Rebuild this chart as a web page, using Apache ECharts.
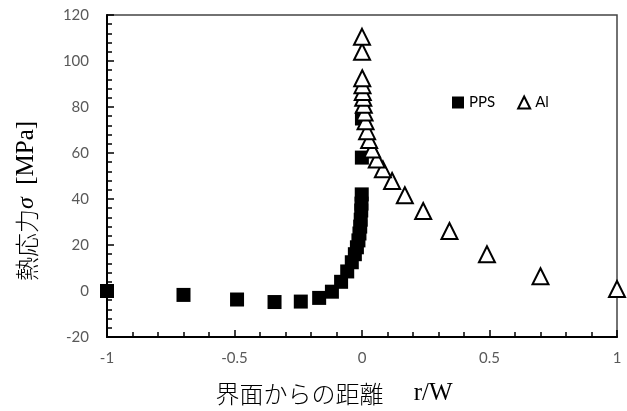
<!DOCTYPE html>
<html><head><meta charset="utf-8">
<script src="https://cdn.jsdelivr.net/npm/echarts@6/dist/echarts.min.js"></script>
<style>html,body{margin:0;padding:0;background:#fff}#c{width:627px;height:411px}</style>
</head><body><div id="c"></div>
<script>
// PPS (filled squares)
const ppsX = [-1, -0.7, -0.49, -0.343, -0.24, -0.168, -0.118, -0.082, -0.058, -0.04, -0.028, -0.02, -0.014, -0.01, -0.007, -0.005, -0.003, -0.002, -0.001, -0.0005, -0.0002];
const ppsY = [0, -1.7, -3.7, -4.8, -4.6, -3, -0.3, 4, 8.5, 12.5, 16, 19, 22, 25, 28, 31, 35, 38, 42, 58, 75];
// Al (open triangles)
const alX = [1, 0.7, 0.49, 0.343, 0.24, 0.168, 0.118, 0.082, 0.058, 0.04, 0.028, 0.02, 0.014, 0.01, 0.007, 0.005, 0.003, 0.002, 0.001, 0.0003, 0];
const alY = [0.9, 6.4, 16, 26.1, 34.8, 41.6, 47.8, 52.9, 57.2, 61.5, 65.6, 69.5, 73.8, 77.6, 81, 84, 86.5, 89.5, 92.5, 104, 110.5];
const xTicks = [-1, -0.5, 0, 0.5, 1];
const yTicks = [-20, 0, 20, 40, 60, 80, 100, 120];

const ppsData = ppsX.map((x, i) => [x, ppsY[i]]);
const alData = alX.map((x, i) => [x, alY[i]]);

const chart = echarts.init(document.getElementById('c'));
const labelFont = {color: '#595959', fontSize: 15, fontFamily: 'Lato, "Open Sans", sans-serif'};
const titleFont = '"Noto Sans CJK JP", sans-serif';
const serif = '"Liberation Serif", "DejaVu Serif", serif';
chart.setOption({
  animation: false,
  grid: {left: 107, right: 10, top: 15, bottom: 73, show: true, borderColor: '#444', borderWidth: 1.5, backgroundColor: 'transparent'},
  legend: {
    left: 447, top: 90, itemGap: 22, itemWidth: 12, itemHeight: 12,
    textStyle: {color: '#000', fontSize: 15, fontFamily: 'Lato, "Open Sans", sans-serif'},
    data: [
      {name: 'PPS', icon: 'rect', itemStyle: {color: '#000'}},
      {name: 'Al', icon: 'triangle', itemStyle: {color: '#fff', borderColor: '#000', borderWidth: 2}}
    ]
  },
  xAxis: {
    type: 'value', min: xTicks[0], max: xTicks[xTicks.length - 1], interval: 0.5,
    axisLine: {onZero: false, lineStyle: {color: '#000', width: 2}},
    axisTick: {inside: true, length: 7, lineStyle: {color: '#000', width: 1.5}},
    minorTick: {show: true, splitNumber: 5, length: 5, lineStyle: {color: '#000', width: 1.5}},
    splitLine: {show: false},
    axisLabel: Object.assign({margin: 14, formatter: v => String(v)}, labelFont),
    name: '界面からの距離　{s| r/W}', nameLocation: 'middle', nameGap: 44,
    nameTextStyle: {color: '#000', fontSize: 24, fontFamily: titleFont, fontWeight: 300, padding: [0, 56, 0, 0],
      rich: {s: {fontSize: 25, fontFamily: serif, color: '#000'}}}
  },
  yAxis: {
    type: 'value', min: yTicks[0], max: yTicks[yTicks.length - 1], interval: 20,
    axisLine: {onZero: false, lineStyle: {color: '#000', width: 2}},
    axisTick: {inside: true, length: 7, lineStyle: {color: '#000', width: 1.5}},
    minorTick: {show: true, splitNumber: 5, length: 5, lineStyle: {color: '#000', width: 1.5}},
    splitLine: {show: false},
    axisLabel: Object.assign({margin: 18}, labelFont),
    name: '熱応力{i|σ}{s|  [MPa]}', nameLocation: 'middle', nameGap: 68, nameRotate: 90,
    nameTextStyle: {color: '#000', fontSize: 24, fontFamily: titleFont, fontWeight: 300, padding: [0, 50, 0, 0],
      rich: {
        i: {fontStyle: 'italic', fontSize: 24, fontFamily: serif, color: '#000'},
        s: {fontSize: 25, fontFamily: serif, color: '#000'}
      }}
  },
  series: [
    {name: 'PPS', type: 'scatter', symbol: 'rect', symbolSize: 14, itemStyle: {color: '#000', opacity: 1}, data: ppsData, z: 2},
    {name: 'Al', type: 'scatter', symbol: 'triangle', symbolSize: [16, 16], itemStyle: {color: '#fff', borderColor: '#000', borderWidth: 2, opacity: 1}, data: alData, z: 3}
  ]
});
</script></body></html>
